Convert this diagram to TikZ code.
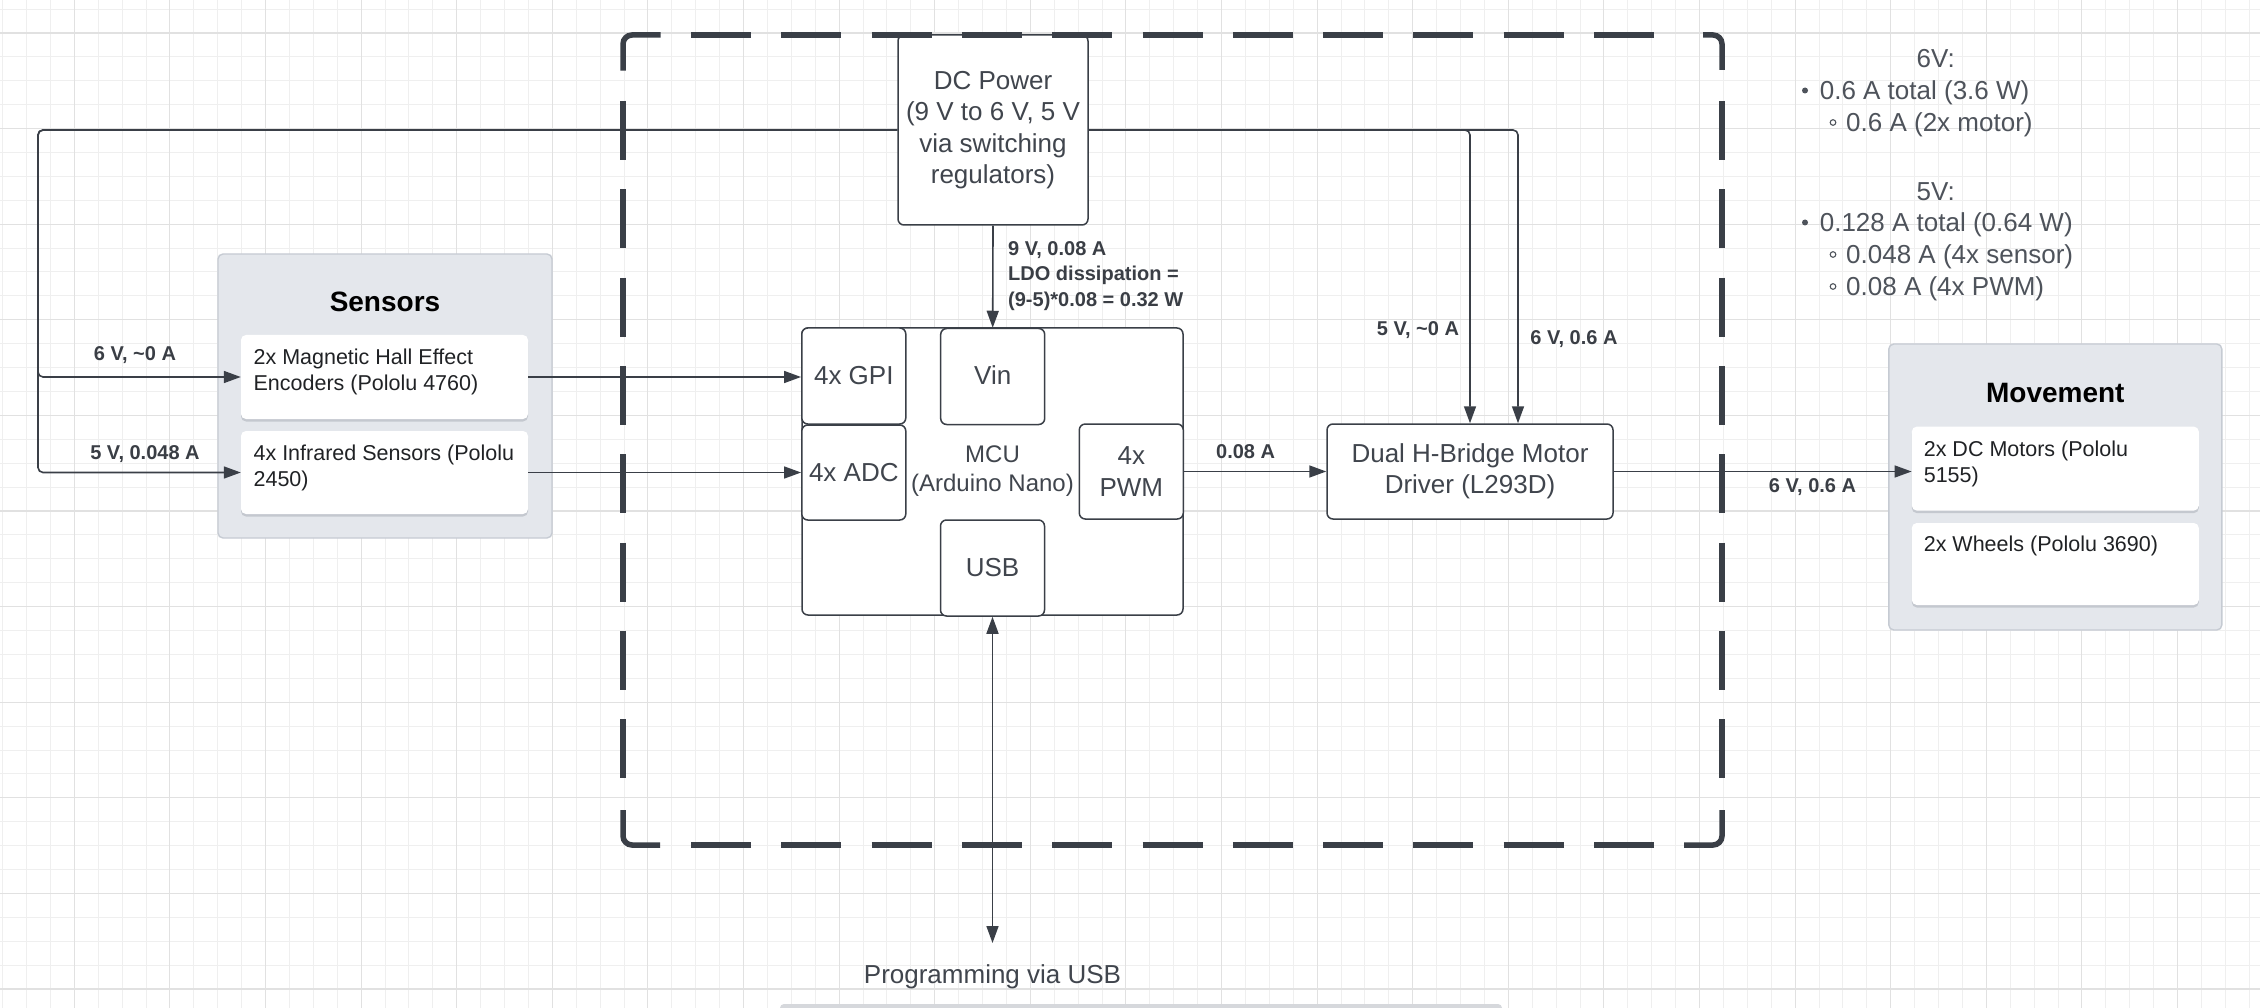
\documentclass[tikz,border=0pt]{standalone}
\usepackage{fontspec}
\setmainfont{Liberation Sans}
\usetikzlibrary{arrows.meta,shadows}

\definecolor{ink}{HTML}{3A3F47}
\definecolor{boxtext}{HTML}{40454D}
\definecolor{lblink}{HTML}{3A3E45}
\definecolor{noteink}{HTML}{4E535B}
\definecolor{cardink}{HTML}{202225}
\definecolor{groupfill}{HTML}{E4E7EC}
\definecolor{groupedge}{HTML}{C6CBD3}
\definecolor{shadowcol}{HTML}{8A9099}
\definecolor{gridminor}{HTML}{EFEFEF}
\definecolor{gridmajor}{HTML}{E1E1E1}
\definecolor{barfill}{HTML}{D6D8DC}

\begin{document}
\begin{tikzpicture}[x=1pt,y=-1pt,
  wire/.style={draw=ink, line width=1.6pt, rounded corners=5pt},
  tip/.style={-{Triangle[length=17pt,width=12pt]}},
  twotip/.style={{Triangle[length=17pt,width=12pt]}-{Triangle[length=17pt,width=12pt]}},
  box/.style={draw=ink, line width=1.5pt, fill=white, rounded corners=6pt,
    align=center, text=boxtext, inner sep=0pt, font=\fontsize{26}{31.5}\selectfont},
  group/.style={draw=groupedge, line width=1.4pt, fill=groupfill,
    rounded corners=5pt, inner sep=0pt},
  card/.style={fill=white, rounded corners=5pt, inner sep=0pt,
    drop shadow={shadow xshift=0pt, shadow yshift=-2.5pt, opacity=0.35, fill=shadowcol}},
  cardtext/.style={anchor=north west, inner sep=0pt, align=left, text=cardink,
    font=\fontsize{21.5}{25.5}\selectfont},
  title/.style={font=\fontsize{28}{34}\selectfont\bfseries, text=black, inner sep=0pt},
  lbl/.style={font=\fontsize{20}{25.5}\selectfont\bfseries, text=lblink, inner sep=0pt},
  note/.style={font=\fontsize{26}{32}\selectfont, text=noteink, inner sep=0pt, anchor=base west},
  frame/.style={draw=ink, line width=5.5pt},
]
\useasboundingbox (0,0) rectangle (2260,1008);

% background grid
\fill[white] (0,0) rectangle (2260,1008);
\foreach \i in {0,...,94}
  \draw[gridminor, line width=1pt] ({2.6+23.9*\i},0) -- ({2.6+23.9*\i},1008);
\foreach \j in {0,...,41}
  \draw[gridminor, line width=1pt] (0,{9.1+23.9*\j}) -- (2260,{9.1+23.9*\j});
\foreach \i in {0,...,22}
  \draw[gridmajor, line width=1.1pt] ({74.3+95.6*\i},0) -- ({74.3+95.6*\i},1008);
\foreach \j in {0,...,10}
  \draw[gridmajor, line width=1.1pt] (0,{33+95.6*\j}) -- (2260,{33+95.6*\j});

% shape peeking in at the lower edge
\begin{scope}
  \clip (0,0) rectangle (2260,1008);
  \fill[barfill, rounded corners=4pt] (780,1004) rectangle (1502,1040);
\end{scope}

% Sensors group
\node[group, minimum width=334pt, minimum height=284pt] (sens) at (385,396) {};
\node[title] (senst) at (385,302) {Sensors};
\node[card, minimum width=287pt, minimum height=84pt] (enc) at (384.5,377) {};
\node[cardtext] (enctxt) at ([xshift=12.6pt, yshift=-14pt]enc.north west)
  {2x Magnetic Hall Effect\\Encoders (Pololu 4760)};
\node[card, minimum width=287pt, minimum height=83pt] (ir) at (384.5,472.5) {};
\node[cardtext] (irtxt) at ([xshift=12.6pt, yshift=-14pt]ir.north west)
  {4x Infrared Sensors (Pololu\\2450)};

% power supply
\node[box, minimum width=190pt, minimum height=190pt] (dcp) at (993,130)
  {DC Power\\(9 V to 6 V, 5 V\\via switching\\regulators)};

% microcontroller and its ports
\node[box, minimum width=381pt, minimum height=287pt, font=\fontsize{24}{29}\selectfont]
  (mcu) at (992.5,471.5) {MCU\\(Arduino Nano)};
\node[box, minimum width=104pt, minimum height=96pt, text depth=2pt] (gpi) at (853.8,376) {4x GPI};
\node[box, minimum width=104pt, minimum height=96pt, text depth=2pt] (vin) at (992.7,376.5) {Vin};
\node[box, minimum width=104pt, minimum height=95pt] (adc) at (853.8,472.5) {4x ADC};
\node[box, minimum width=104pt, minimum height=95pt] (pwm) at (1131.3,471.5) {4x\\PWM};
\node[box, minimum width=104pt, minimum height=96pt, text depth=2pt] (usb) at (992.5,568) {USB};

% motor driver
\node[box, minimum width=286pt, minimum height=95pt] (drv) at (1470,471.5)
  {Dual H-Bridge Motor\\Driver (L293D)};

% Movement group
\node[group, minimum width=333pt, minimum height=286pt] (move) at (2055.3,487) {};
\node[title] (movet) at (2055.3,393.5) {Movement};
\node[card, minimum width=287pt, minimum height=84pt] (mot) at (2055.3,468.6) {};
\node[cardtext] (mottxt) at ([xshift=12pt, yshift=-14.5pt]mot.north west)
  {2x DC Motors (Pololu\\5155)};
\node[card, minimum width=287pt, minimum height=82pt] (whl) at (2055.3,564) {};
\node[cardtext] (whltxt) at ([xshift=12pt, yshift=-13pt]whl.north west)
  {2x Wheels (Pololu 3690)};

% connectors
\coordinate (lbus) at (38,130);
\draw[wire, tip] (dcp.west) -- (lbus) |- (enc.west);
\draw[wire, tip] (dcp.west) -- (lbus) |- (ir.west);
\draw[wire, tip] (dcp.east) -| (drv.north);
\draw[wire, tip] (dcp.east) -| ([xshift=48pt]drv.north);
\draw[wire, tip] (dcp.south) -- (vin.north);
\draw[wire, tip] (enc.east) -- (enc.east -| gpi.west);
\draw[wire, tip] (ir.east) -- (ir.east -| adc.west);
\draw[wire, tip] (pwm.east) -- (drv.west);
\draw[wire, tip] (drv.east) -- (drv.east -| mot.west);
\coordinate (usbend) at (992.5,943);
\draw[wire, twotip] (usb.south) -- (usbend);
\node[font=\fontsize{26}{31}\selectfont, text=boxtext, inner sep=0pt] (prog) at (992.5,977)
  {Programming via USB};

% connector labels
\node[lbl] (l6a) at (135,355) {6 V, \textasciitilde0 A};
\node[lbl] (l5a) at (145,453.6) {5 V, 0.048 A};
\node[lbl, anchor=north west, align=left] (ldo) at (1008,241)
  {9 V, 0.08 A\\LDO dissipation =\\(9-5)*0.08 = 0.32 W};
\node[lbl] (l5b) at (1418,330) {5 V, \textasciitilde0 A};
\node[lbl] (l6b) at (1574,339) {6 V, 0.6 A};
\node[lbl] (lpwm) at (1245.6,452) {0.08 A};
\node[lbl] (lmot) at (1812.5,487) {6 V, 0.6 A};

% current budget notes
\node[note, anchor=base] (h6) at (1935.7,68) {6V:};
\node[note] (n1) at (1819.6,100) {0.6 A total (3.6 W)};
\node[note] (n2) at (1846,132) {0.6 A (2x motor)};
\node[note, anchor=base] (h5) at (1935.7,201) {5V:};
\node[note] (n3) at (1819.6,232) {0.128 A total (0.64 W)};
\node[note] (n4) at (1846,264) {0.048 A (4x sensor)};
\node[note] (n5) at (1846,296) {0.08 A (4x PWM)};
\fill[noteink] ([xshift=-14.6pt, yshift=9.5pt]n1.base west) circle (3pt);
\fill[noteink] ([xshift=-14.6pt, yshift=9.5pt]n3.base west) circle (3pt);
\draw[noteink, line width=1.1pt] ([xshift=-13pt, yshift=9.5pt]n2.base west) circle (2.8pt);
\draw[noteink, line width=1.1pt] ([xshift=-13pt, yshift=9.5pt]n4.base west) circle (2.8pt);
\draw[noteink, line width=1.1pt] ([xshift=-13pt, yshift=9.5pt]n5.base west) circle (2.8pt);

% dashed enclosure: solid corners, evenly dashed sides
\draw[frame, rounded corners=9pt] (623,70.7) -- (623,35) -- (660.7,35);
\draw[frame, rounded corners=9pt] (1703,35) -- (1722,35) -- (1722,70);
\draw[frame, rounded corners=9pt] (623,810) -- (623,845) -- (660,845);
\draw[frame, rounded corners=9pt] (1684,845) -- (1722,845) -- (1722,810);
\draw[frame, dash pattern=on 60pt off 30.3pt] (691,35) -- (1654,35);
\draw[frame, dash pattern=on 60pt off 30.3pt] (691,845) -- (1654,845);
\draw[frame, dash pattern=on 59pt off 29.3pt] (623,101) -- (623,779);
\draw[frame, dash pattern=on 59pt off 29.3pt] (1722,101) -- (1722,779);
\end{tikzpicture}
\end{document}
